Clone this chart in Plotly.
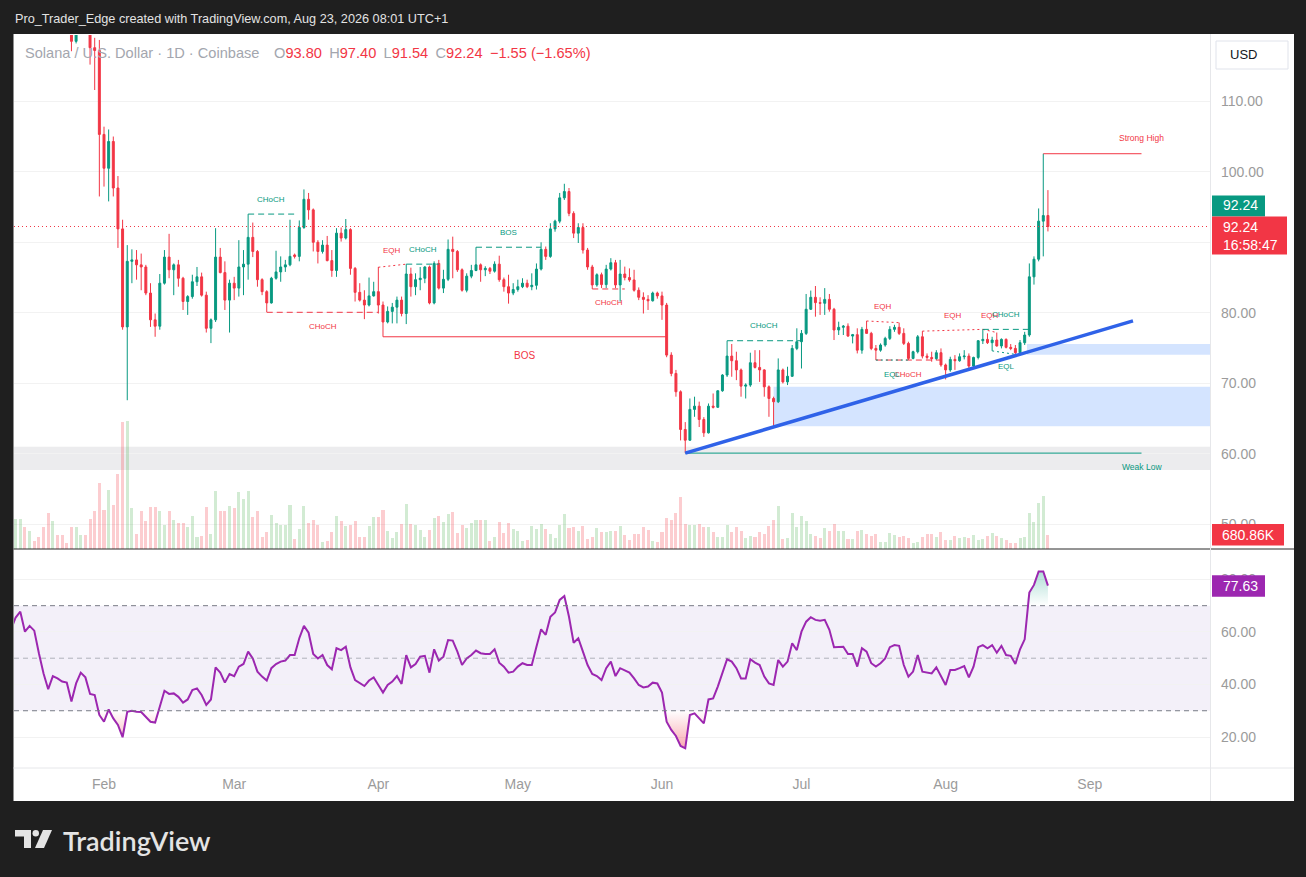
import pandas as pd
import plotly.graph_objects as go

W, H = 1306, 877
FONT = "Liberation Sans, Arial, sans-serif"
UP, DOWN = "#089981", "#f23645"
AXIS_TXT = "#9b9b9b"

# ---- daily SOL/USD candles, 12 Jan - 23 Aug 2026 ----
dates = pd.date_range("2026-01-12", "2026-08-23", freq="D")

opens = [
    128.0, 129.0, 132.0, 134.0, 130.0, 131.5, 130.5, 126.5, 123.0, 121.0, 124.0, 123.0, 122.0, 121.0, 118.5, 120.5, 122.0, 120.5, 117.6, 117.2,
    105.3, 100.5, 104.3, 97.7, 91.9, 78.0, 87.3, 87.5, 86.8, 86.5, 82.8, 79.0, 78.1, 84.2, 87.9, 86.1, 86.8, 84.9, 81.6, 82.3, 84.4, 85.1, 82.5, 77.8, 79.0, 87.9, 85.7, 81.8,
    84.2, 83.5, 86.5, 86.9, 90.7, 88.7, 84.7, 83.0, 81.4, 84.9, 85.8, 86.5, 86.8, 88.2, 88.0, 92.1, 96.1, 94.6, 90.0, 88.7, 89.6, 87.4, 86.0, 91.3, 90.6, 91.8, 86.3, 82.9, 81.8, 81.1, 82.4,
    83.0, 81.1, 78.7, 80.2, 80.8, 81.8, 79.9, 85.5, 83.7, 84.7, 84.9, 86.5, 81.4, 87.0, 83.5, 84.75, 89.0, 88.7, 86.1, 83.2, 85.2, 86.0, 86.8, 86.1, 86.3, 85.9, 86.9, 84.7, 83.7, 82.8,
    83.3, 83.7, 84.2, 83.7, 83.9, 86.2, 89.0, 88.0, 91.9, 93.0, 96.3, 97.2, 94.1, 91.3, 92.1, 88.9, 86.5, 83.95, 85.4, 84.0, 86.2, 87.1, 83.95, 85.5, 85.0, 84.66, 83.2, 82.2, 81.9, 81.7, 82.8,
    82.4, 81.1, 74.0, 71.4, 68.8, 63.45, 61.93, 66.3, 66.76, 64.87, 62.97, 66.76, 66.6, 68.94, 71.17, 73.86, 73.2, 71.9, 69.6, 69.75, 72.92, 72.25, 71.9, 69.5, 67.85, 67.38, 71.9, 70.2, 71.0, 74.95,
    75.9, 77.08, 80.5, 82.2, 81.44, 81.35, 81.9, 80.5, 77.56, 77.94, 78.1, 76.7, 76.9, 74.7, 77.65, 77.08, 74.95, 74.7, 75.43, 76.37, 77.65, 77.94, 77.08, 75.66, 73.53, 74.48, 76.6, 73.86, 73.67, 73.5, 74.34,
    72.6, 71.9, 73.39, 73.2, 73.77, 73.86, 72.44, 73.67, 76.04, 76.23, 75.76, 76.14, 75.3, 76.23, 75.1, 74.95, 74.34, 75.76, 76.85, 85.1, 87.6, 93.0, 93.80,
]
highs = [
    131.0, 133.0, 135.0, 135.0, 133.0, 132.0, 131.0, 127.0, 123.5, 125.0, 124.5, 123.5, 122.5, 121.5, 121.0, 123.0, 122.5, 121.0, 119.0, 118.7,
    106.4, 106.0, 105.0, 99.4, 93.2, 89.6, 89.0, 88.9, 88.4, 86.8, 84.2, 79.9, 85.5, 88.9, 91.2, 87.0, 87.5, 85.1, 82.5, 85.4, 86.5, 85.7, 83.0, 79.2, 92.0, 89.2, 87.3, 84.7,
    85.1, 90.3, 88.9, 94.0, 92.8, 88.9, 84.9, 83.2, 85.1, 88.8, 88.0, 87.5, 93.2, 88.4, 93.1, 97.5, 97.0, 94.8, 90.3, 90.3, 90.9, 88.9, 92.0, 92.1, 93.3, 92.0, 86.5, 84.2, 83.2, 85.0, 84.4,
    86.5, 81.6, 80.9, 81.4, 82.3, 82.3, 86.9, 86.4, 85.6, 86.5, 86.6, 86.7, 87.3, 87.5, 86.1, 90.4, 90.8, 88.9, 86.3, 85.6, 86.8, 89.3, 87.0, 86.6, 86.5, 87.3, 88.1, 85.0, 85.4, 84.2,
    84.7, 84.9, 84.7, 85.6, 87.0, 90.0, 89.4, 92.7, 93.2, 97.0, 98.3, 97.7, 94.4, 92.7, 92.7, 89.2, 86.8, 85.6, 85.7, 86.8, 87.75, 87.5, 87.5, 86.55, 86.3, 86.1, 83.6, 82.9, 82.5, 83.0, 83.0,
    83.0, 81.4, 74.4, 71.9, 69.0, 64.5, 67.85, 68.1, 67.4, 65.2, 67.14, 68.56, 69.0, 71.3, 76.04, 75.57, 74.48, 72.1, 70.0, 74.34, 74.7, 74.7, 72.0, 69.7, 68.1, 73.53, 72.1, 72.35, 75.43, 77.8,
    77.56, 82.67, 83.15, 83.8, 82.2, 83.5, 82.67, 80.7, 78.74, 78.27, 78.5, 77.0, 77.8, 78.0, 78.84, 77.3, 75.43, 75.66, 76.6, 78.1, 78.3, 78.6, 77.8, 75.9, 74.62, 76.85, 77.4, 74.24, 74.48, 74.7, 74.95,
    72.8, 73.77, 74.0, 74.24, 74.7, 74.24, 73.77, 76.14, 77.65, 77.08, 76.6, 77.2, 76.37, 76.37, 75.57, 75.43, 76.14, 77.3, 87.0, 88.0, 94.8, 102.56, 97.40,
]
lows = [
    126.0, 128.0, 130.0, 129.0, 129.0, 129.5, 126.0, 122.0, 120.0, 120.5, 122.0, 121.5, 120.0, 117.1, 118.2, 120.0, 119.5, 115.2, 111.6, 96.5,
    97.9, 95.8, 96.5, 89.2, 77.6, 67.6, 84.2, 84.7, 83.2, 82.5, 78.0, 76.6, 77.6, 84.0, 84.9, 82.5, 83.7, 80.4, 79.7, 82.0, 83.8, 82.3, 77.2, 75.7, 78.7, 85.6, 80.4, 77.2,
    81.8, 82.3, 82.5, 84.7, 87.9, 83.7, 82.5, 80.1, 81.3, 84.7, 84.4, 85.8, 86.6, 87.7, 87.3, 91.9, 93.2, 88.7, 87.0, 88.4, 87.3, 85.1, 85.1, 90.1, 90.4, 85.4, 81.6, 81.6, 79.1, 80.9, 82.3,
    79.9, 76.6, 78.5, 78.5, 78.5, 79.5, 78.4, 82.3, 82.5, 83.2, 84.2, 81.2, 81.2, 83.3, 82.8, 84.5, 84.9, 85.8, 83.0, 82.9, 84.9, 85.9, 84.4, 85.2, 85.5, 85.7, 84.4, 83.0, 81.3, 82.5,
    83.0, 83.5, 83.5, 83.2, 83.3, 86.0, 87.5, 87.8, 91.5, 92.7, 96.0, 93.7, 90.6, 89.9, 88.4, 86.1, 83.38, 83.7, 83.5, 83.5, 86.0, 83.5, 81.6, 84.6, 84.4, 83.0, 81.8, 79.9, 80.4, 81.6, 82.0,
    79.0, 73.7, 71.0, 68.1, 61.9, 60.1, 61.84, 65.25, 63.8, 62.4, 62.88, 66.43, 66.5, 68.8, 70.9, 70.93, 70.45, 68.1, 67.85, 69.5, 72.1, 70.2, 68.1, 65.25, 63.9, 67.2, 69.98, 69.75, 70.9, 74.7,
    72.1, 76.85, 80.4, 79.45, 79.7, 79.7, 80.16, 76.14, 76.85, 76.85, 76.6, 75.66, 74.24, 74.2, 77.08, 74.7, 73.3, 74.48, 75.19, 76.14, 77.3, 76.85, 75.43, 73.3, 73.4, 74.24, 73.53, 73.39, 73.06, 73.3, 72.35,
    70.55, 71.64, 71.9, 73.06, 73.39, 72.1, 72.1, 73.39, 75.57, 75.57, 74.6, 75.19, 74.95, 74.95, 74.7, 74.0, 74.0, 75.43, 76.6, 84.0, 87.3, 88.0, 91.54,
]
closes = [
    129.0, 132.0, 134.0, 130.0, 131.5, 130.5, 126.5, 123.0, 121.0, 124.0, 123.0, 122.0, 121.0, 118.5, 120.5, 122.0, 120.5, 117.6, 117.2, 105.3,
    100.5, 104.3, 97.7, 91.9, 78.0, 87.3, 87.5, 86.8, 86.5, 82.8, 79.0, 78.1, 84.2, 87.9, 86.1, 86.8, 84.9, 81.6, 82.3, 84.4, 85.1, 82.5, 77.8, 79.0, 87.9, 85.7, 81.8, 84.2,
    83.5, 86.5, 86.9, 90.7, 88.7, 84.7, 83.0, 81.4, 84.9, 85.8, 86.5, 86.8, 88.0, 88.0, 92.1, 96.1, 94.6, 90.0, 88.7, 89.6, 87.4, 86.0, 91.3, 90.6, 91.8, 86.3, 82.9, 81.8, 81.1, 82.4, 83.0,
    81.1, 78.7, 80.2, 80.8, 81.8, 79.9, 85.5, 83.7, 84.7, 84.9, 86.5, 81.4, 87.0, 83.5, 84.75, 89.0, 88.7, 86.1, 83.2, 85.2, 86.0, 86.8, 86.1, 86.3, 85.9, 86.9, 84.7, 83.7, 82.8, 83.3,
    83.7, 84.2, 83.7, 83.9, 86.2, 89.0, 88.0, 91.9, 93.0, 96.3, 97.2, 94.1, 91.3, 92.1, 88.9, 86.5, 83.95, 85.4, 84.0, 86.2, 87.1, 83.95, 85.5, 85.0, 84.66, 83.2, 82.2, 81.9, 81.7, 82.8, 82.4,
    81.1, 74.0, 71.4, 68.8, 63.45, 61.93, 66.3, 66.76, 64.87, 62.97, 66.76, 66.6, 68.94, 71.17, 73.86, 73.2, 71.9, 69.6, 69.75, 72.92, 72.25, 71.9, 69.5, 67.85, 67.38, 71.9, 70.2, 71.0, 74.95, 75.9,
    77.08, 80.5, 82.2, 81.44, 81.35, 81.9, 80.5, 77.56, 77.94, 78.1, 76.7, 76.9, 74.7, 77.65, 77.08, 74.95, 74.7, 75.43, 76.37, 77.65, 77.94, 77.08, 75.66, 73.53, 74.48, 76.6, 73.86, 73.67, 73.5, 74.34, 72.6,
    71.9, 73.39, 73.2, 73.77, 73.86, 72.44, 73.67, 76.04, 76.23, 75.76, 76.14, 75.3, 76.23, 75.1, 74.95, 74.34, 75.76, 76.85, 85.1, 87.6, 93.0, 93.79, 92.24,
]
# volume in thousands of SOL
volumes_k = [
    1175, 1410, 1410, 1034, 846, 376, 564, 1034, 1692, 1316, 658, 658, 282, 1034, 1034, 658, 658, 1410, 1786, 3102,
    1833, 2773, 2068, 3525, 5969, 6016, 1927, 705, 1786, 1316, 1974, 1974, 1786, 1128, 1786, 1363, 1222, 1222, 1034, 1551, 564, 611, 1974, 705, 2726, 1786, 1786, 2021,
    1927, 2679, 2350, 2726, 1504, 1786, 564, 799, 1598, 1222, 1128, 1128, 2068, 470, 940, 2021, 1222, 1363, 1128, 329, 376, 799, 1551, 1316, 1081, 1128, 1316, 564, 564, 1081, 1504,
    1504, 1833, 846, 517, 799, 1175, 2115, 1175, 1128, 893, 564, 893, 1457, 1551, 1269, 1645, 1739, 752, 1128, 987, 1222, 1363, 1363, 1363, 376, 564, 1269, 752, 1222, 940,
    846, 376, 423, 1081, 940, 1175, 940, 705, 517, 1128, 1645, 987, 1034, 846, 1081, 470, 564, 987, 799, 799, 846, 846, 1081, 658, 423, 705, 705, 1034, 893, 376, 329,
    799, 1457, 1363, 1692, 2444, 1175, 1128, 1128, 1175, 1034, 1034, 799, 564, 564, 1128, 799, 1034, 846, 517, 611, 564, 799, 705, 1081, 1363, 2021, 470, 517, 1692, 1034,
    1551, 1316, 705, 611, 517, 987, 846, 1175, 846, 846, 470, 470, 846, 893, 705, 611, 705, 329, 329, 752, 658, 564, 611, 517, 282, 329, 564, 705, 705, 564, 799,
    423, 423, 611, 517, 564, 517, 658, 423, 470, 611, 752, 611, 517, 423, 282, 282, 517, 564, 1692, 1269, 2162, 2491, 680.86,
]
# RSI(14)
rsi = [
    61.0, 65.5, 67.7, 60.1, 62.3, 60.5, 51.9, 44.2, 38.2, 43.2, 42.3, 41.1, 40.7, 33.5, 40.4, 44.5, 42.7, 36.4, 36.0, 28.4,
    25.8, 30.5, 27.1, 24.6, 19.9, 29.6, 30.0, 29.6, 29.5, 27.7, 25.8, 25.5, 31.6, 37.6, 36.4, 36.6, 35.3, 33.1, 34.3, 37.9, 38.5, 36.0, 32.2, 34.3, 46.5, 44.5, 40.7, 44.0,
    43.2, 46.8, 47.8, 52.5, 49.9, 44.9, 43.0, 41.5, 46.2, 47.8, 48.7, 49.1, 51.2, 51.2, 57.6, 62.3, 59.7, 51.6, 49.9, 51.2, 47.4, 45.8, 53.8, 53.1, 54.4, 46.5, 41.7, 40.4, 39.4, 41.5, 42.7,
    39.8, 36.9, 39.8, 41.1, 43.2, 40.2, 51.2, 46.5, 47.8, 50.6, 50.9, 44.5, 53.4, 49.1, 50.6, 56.9, 56.7, 52.5, 47.4, 49.9, 51.2, 52.9, 51.9, 51.6, 51.6, 53.4, 48.3, 46.8, 44.5, 44.9,
    46.8, 48.1, 47.4, 47.4, 54.4, 61.0, 58.9, 65.8, 67.4, 72.2, 73.7, 65.8, 55.9, 57.6, 52.5, 47.4, 44.0, 43.2, 41.7, 46.2, 48.7, 43.2, 46.2, 45.5, 44.5, 42.3, 39.8, 38.9, 39.2, 40.7, 40.4,
    36.9, 25.8, 22.7, 20.4, 16.6, 15.7, 28.4, 29.0, 27.1, 25.2, 34.3, 34.7, 39.2, 44.2, 49.6, 48.7, 46.2, 42.3, 42.3, 49.6, 48.3, 47.4, 43.0, 40.4, 39.8, 49.3, 46.8, 48.7, 55.7, 53.1,
    60.1, 63.9, 65.6, 64.6, 64.3, 64.6, 60.8, 54.2, 54.4, 54.4, 51.6, 51.6, 46.8, 53.8, 52.5, 48.1, 46.8, 48.1, 49.9, 54.2, 55.0, 54.7, 47.4, 43.0, 44.9, 51.2, 44.9, 44.5, 44.2, 46.5, 43.0,
    39.8, 45.5, 45.5, 46.2, 47.0, 42.7, 46.8, 54.2, 55.0, 53.8, 55.0, 52.1, 54.7, 51.2, 50.9, 47.8, 53.4, 57.2, 75.0, 77.9, 83.0, 83.0, 77.63,
]
n = len(dates)
assert all(len(s) == n for s in (opens, highs, lows, closes, volumes_k, rsi))

month_ticks = ["2026-02-01", "2026-03-01", "2026-04-01", "2026-05-01",
               "2026-06-01", "2026-07-01", "2026-08-01", "2026-09-01"]
month_labels = ["Feb", "Mar", "Apr", "May", "Jun", "Jul", "Aug", "Sep"]

price_ticks = [50, 60, 70, 80, 90, 100, 110]
# 90.00 sits under the last-price labels, so only its grid line shows
price_tick_text = ["50.00", "60.00", "70.00", "80.00", "", "100.00", "110.00"]

view = ["2026-01-12 15:30", "2026-09-26 20:30"]
price_range = [46.5, 119.4]
rsi_range = [8.2, 91.2]
vol_range = [0, 24200]

# ---- smart money concepts structure (start, end, level at start, level at end, label) ----
smc_start = ["2026-03-04", "2026-03-08", "2026-04-01", "2026-04-07", "2026-04-22", "2026-04-02", "2026-05-17",
             "2026-06-15", "2026-07-15", "2026-07-17", "2026-07-17", "2026-07-27", "2026-08-09", "2026-08-09", "2026-08-11"]
smc_end = ["2026-03-14", "2026-04-01", "2026-04-07", "2026-04-14", "2026-05-06", "2026-06-02", "2026-05-24",
           "2026-07-01", "2026-07-22", "2026-07-31", "2026-07-24", "2026-08-09", "2026-08-12", "2026-08-19", "2026-08-17"]
smc_from = [94.0, 80.07, 86.46, 86.9, 89.3, 76.6, 83.38, 76.04, 78.84, 73.3, 73.3, 77.4, 77.65, 77.65, 74.6]
smc_to = [94.0, 80.07, 86.9, 86.9, 89.3, 76.6, 83.38, 76.04, 78.6, 73.3, 73.3, 77.65, 77.2, 77.65, 74.0]
smc_label = ["CHoCH", "CHoCH", "EQH", "CHoCH", "BOS", "BOS", "CHoCH",
             "CHoCH", "EQH", "CHoCH", "EQL", "EQH", "EQH", "CHoCH", "EQL"]
smc_bull = [True, False, False, True, True, False, False, True, False, False, True, False, False, True, True]
smc_swing = [False, False, False, False, False, True, False, False, False, False, False, False, False, False, False]

strong_high, strong_high_from = 102.56, "2026-08-22"
weak_low, weak_low_from = 60.1, "2026-06-06"
levels_until = "2026-09-12 03:00"

grey_zone = [57.7, 61.0]
demand_from = ["2026-06-25", "2026-08-18 12:00"]
demand_low = [63.9, 74.06]
demand_high = [69.5, 75.57]

trend_dates = ["2026-06-06", "2026-09-10 07:00"]
trend_prices = [60.1, 78.85]


def px(x):
    return x / W


def py(y):
    return 1 - y / H


X_DOM = [px(14), px(1210)]
PRICE_DOM = [py(549), py(35)]
RSI_DOM = [py(768), py(550)]

fig = go.Figure()

vol_colors = ["rgba(76,175,80,0.25)" if c >= o else "rgba(242,54,69,0.25)" for o, c in zip(opens, closes)]
fig.add_trace(go.Bar(x=dates, y=volumes_k, marker=dict(color=vol_colors, line=dict(width=0)),
                     width=0.65 * 86400000, xaxis="x", yaxis="y", hoverinfo="skip"))

fig.add_trace(go.Candlestick(
    x=dates, open=opens, high=highs, low=lows, close=closes, xaxis="x", yaxis="y2",
    increasing=dict(line=dict(color=UP, width=1), fillcolor=UP),
    decreasing=dict(line=dict(color=DOWN, width=1), fillcolor=DOWN),
    whiskerwidth=0, hoverinfo="skip"))

# RSI overbought / oversold fills
fig.add_trace(go.Scatter(x=dates, y=[70] * n, mode="lines", line=dict(width=0), xaxis="x2", yaxis="y3", hoverinfo="skip"))
fig.add_trace(go.Scatter(x=dates, y=[max(r, 70) for r in rsi], mode="lines", line=dict(width=0), fill="tonexty",
                         fillgradient=dict(type="vertical", start=70, stop=84,
                                           colorscale=[[0, "rgba(8,153,129,0)"], [1, "rgba(8,153,129,0.35)"]]),
                         xaxis="x2", yaxis="y3", hoverinfo="skip"))
fig.add_trace(go.Scatter(x=dates, y=[30] * n, mode="lines", line=dict(width=0), xaxis="x2", yaxis="y3", hoverinfo="skip"))
fig.add_trace(go.Scatter(x=dates, y=[min(r, 30) for r in rsi], mode="lines", line=dict(width=0), fill="tonexty",
                         fillgradient=dict(type="vertical", start=15, stop=30,
                                           colorscale=[[0, "rgba(242,54,69,0.45)"], [1, "rgba(242,54,69,0)"]]),
                         xaxis="x2", yaxis="y3", hoverinfo="skip"))
fig.add_trace(go.Scatter(x=dates, y=rsi, mode="lines", line=dict(color="#9c27b0", width=2),
                         xaxis="x2", yaxis="y3", hoverinfo="skip"))

shapes = []
# white chart panel on the dark page
shapes.append(dict(type="rect", xref="paper", yref="paper", x0=px(13.5), x1=px(1294), y0=py(801), y1=py(34),
                   fillcolor="white", line=dict(width=0), layer="below"))
shapes.append(dict(type="rect", xref="x domain", yref="y2", x0=0, x1=1, y0=grey_zone[0], y1=grey_zone[1],
                   fillcolor="rgba(120,123,134,0.14)", line=dict(width=0), layer="below"))
for d0, lo, hi in zip(demand_from, demand_low, demand_high):
    shapes.append(dict(type="rect", xref="x", yref="y2", x0=d0, x1=view[1], y0=lo, y1=hi,
                       fillcolor="rgba(41,121,255,0.2)", line=dict(width=0), layer="below"))
shapes.append(dict(type="rect", xref="x2 domain", yref="y3", x0=0, x1=1, y0=30, y1=70,
                   fillcolor="rgba(126,87,194,0.09)", line=dict(width=0), layer="below"))
for lvl, col in ((70, "#787b86"), (50, "rgba(120,123,134,0.55)"), (30, "#787b86")):
    shapes.append(dict(type="line", xref="x2 domain", yref="y3", x0=0, x1=1, y0=lvl, y1=lvl,
                       line=dict(color=col, width=1, dash="5px,4px")))
# last price line
shapes.append(dict(type="line", xref="x domain", yref="y2", x0=0, x1=1, y0=closes[-1], y1=closes[-1],
                   line=dict(color=DOWN, width=1, dash="1px,3px")))

annotations = []
for s, e, y0, y1, lab, bull, swing in zip(smc_start, smc_end, smc_from, smc_to, smc_label, smc_bull, smc_swing):
    col = UP if bull else DOWN
    if lab in ("EQH", "EQL"):
        dash = "2px,3px"
    elif swing:
        dash = "solid"
    else:
        dash = "6px,4px"
    shapes.append(dict(type="line", xref="x", yref="y2", x0=s, x1=e, y0=y0, y1=y1,
                       line=dict(color=col, width=1, dash=dash)))
    mid = pd.Timestamp(s) + (pd.Timestamp(e) - pd.Timestamp(s)) / 2
    above = lab == "EQH" or (bull and lab != "EQL")
    annotations.append(dict(x=mid, y=(y0 + y1) / 2, xref="x", yref="y2", text=lab, showarrow=False,
                            font=dict(family=FONT, size=10 if swing else 8, color=col),
                            yshift=(15 if above else -(19 if swing else 14))))

shapes.append(dict(type="line", xref="x", yref="y2", x0=strong_high_from, x1=levels_until,
                   y0=strong_high, y1=strong_high, line=dict(color=DOWN, width=1)))
shapes.append(dict(type="line", xref="x", yref="y2", x0=weak_low_from, x1=levels_until,
                   y0=weak_low, y1=weak_low, line=dict(color=UP, width=1)))
annotations.append(dict(x=levels_until, y=strong_high, xref="x", yref="y2", text="Strong High", showarrow=False,
                        font=dict(family=FONT, size=8.5, color=DOWN), yshift=16))
annotations.append(dict(x=levels_until, y=weak_low, xref="x", yref="y2", text="Weak Low", showarrow=False,
                        font=dict(family=FONT, size=8.5, color=UP), yshift=-14))

shapes.append(dict(type="line", xref="x", yref="y2", x0=trend_dates[0], x1=trend_dates[1],
                   y0=trend_prices[0], y1=trend_prices[1], line=dict(color="#2f62e8", width=3.5)))

# frame lines
shapes.append(dict(type="line", xref="paper", yref="paper", x0=px(13.5), x1=px(1294), y0=py(549), y1=py(549),
                   line=dict(color="#2b2b2b", width=1)))
shapes.append(dict(type="line", xref="paper", yref="paper", x0=px(13.5), x1=px(1294), y0=py(768), y1=py(768),
                   line=dict(color="#e6e7ea", width=1)))
shapes.append(dict(type="line", xref="paper", yref="paper", x0=px(1210.5), x1=px(1210.5), y0=py(801), y1=py(34),
                   line=dict(color="#e6e7ea", width=1)))

# price scale labels (boxes tied to values)
shapes.append(dict(type="rect", xref="paper", yref="y2", ysizemode="pixel", yanchor=closes[-1],
                   x0=px(1212), x1=px(1265), y0=10, y1=31, fillcolor=UP, line=dict(width=0)))
shapes.append(dict(type="rect", xref="paper", yref="y2", ysizemode="pixel", yanchor=closes[-1],
                   x0=px(1212), x1=px(1287), y0=-28, y1=10, fillcolor=DOWN, line=dict(width=0)))
shapes.append(dict(type="rect", xref="paper", yref="y", ysizemode="pixel", yanchor=volumes_k[-1],
                   x0=px(1212), x1=px(1284), y0=-11, y1=10.5, fillcolor="#f23645", line=dict(width=0)))
shapes.append(dict(type="rect", xref="paper", yref="y3", ysizemode="pixel", yanchor=rsi[-1],
                   x0=px(1212), x1=px(1265), y0=-11, y1=10.5, fillcolor="#9c27b0", line=dict(width=0)))
shapes.append(dict(type="rect", xref="paper", yref="paper", x0=px(1216), x1=px(1288), y0=py(69), y1=py(41),
                   fillcolor="white", line=dict(color="#e0e3eb", width=1)))

lbl_font = dict(family=FONT, size=14, color="white")
annotations += [
    dict(x=px(1221), y=closes[-1], xref="paper", yref="y2", text=f"{closes[-1]:.2f}", showarrow=False,
         xanchor="left", yanchor="middle", font=lbl_font, yshift=21),
    dict(x=px(1221), y=closes[-1], xref="paper", yref="y2", text=f"{closes[-1]:.2f}<br>16:58:47", showarrow=False,
         xanchor="left", yanchor="top", align="left", font=lbl_font, yshift=9),
    dict(x=px(1220), y=volumes_k[-1], xref="paper", yref="y", text=f"{volumes_k[-1]:.2f}K", showarrow=False,
         xanchor="left", yanchor="middle", font=lbl_font),
    dict(x=px(1221), y=rsi[-1], xref="paper", yref="y3", text=f"{rsi[-1]:.2f}", showarrow=False,
         xanchor="left", yanchor="middle", font=lbl_font),
    dict(x=px(1228), y=py(55), xref="paper", yref="paper", text="USD", showarrow=False,
         xanchor="left", yanchor="middle", font=dict(family=FONT, size=13, color="#131722")),
]

# header and legend
change = closes[-1] - closes[-2]
pct = change / closes[-2] * 100
g, r_ = "#a3a6ae", DOWN
legend_txt = (f"<span style='color:{g}'>Solana / U.S. Dollar · 1D · Coinbase</span>\u2003"
              f"<span style='color:{g}'>O</span><span style='color:{r_}'>{opens[-1]:.2f}</span>\u2002"
              f"<span style='color:{g}'>H</span><span style='color:{r_}'>{highs[-1]:.2f}</span>\u2002"
              f"<span style='color:{g}'>L</span><span style='color:{r_}'>{lows[-1]:.2f}</span>\u2002"
              f"<span style='color:{g}'>C</span><span style='color:{r_}'>{closes[-1]:.2f}</span>\u2002"
              f"<span style='color:{r_}'>\u2212{abs(change):.2f} (\u2212{abs(pct):.2f}%)</span>")
annotations += [
    dict(x=px(13), y=py(19), xref="paper", yref="paper", showarrow=False, xanchor="left", yanchor="middle",
         text="Pro_Trader_Edge created with TradingView.com, Aug 23, 2026 08:01 UTC+1",
         font=dict(family=FONT, size=12.7, color="#e3e3e3")),
    dict(x=px(23), y=py(53), xref="paper", yref="paper", showarrow=False, xanchor="left", yanchor="middle",
         text=legend_txt, font=dict(family=FONT, size=14.6)),
    dict(x=px(61), y=py(840), xref="paper", yref="paper", showarrow=False, xanchor="left", yanchor="middle",
         text="TradingView", font=dict(family="Lato, Liberation Sans, Arial", size=27, color="#e4e4e4", weight=600)),
]

# TradingView logo mark
logo = "#e4e4e4"
shapes += [
    dict(type="rect", xref="paper", yref="paper", x0=px(15), x1=px(31), y0=py(836.5), y1=py(830), fillcolor=logo, line=dict(width=0)),
    dict(type="rect", xref="paper", yref="paper", x0=px(24), x1=px(31), y0=py(848), y1=py(830), fillcolor=logo, line=dict(width=0)),
    dict(type="circle", xref="paper", yref="paper", x0=px(32.5), x1=px(39), y0=py(836.5), y1=py(830), fillcolor=logo, line=dict(width=0)),
    dict(type="path", xref="paper", yref="paper", fillcolor=logo, line=dict(width=0),
         path=f"M {px(43)},{py(830)} L {px(52)},{py(830)} L {px(44)},{py(848)} L {px(35)},{py(848)} Z"),
]

axis_font = dict(family=FONT, size=14, color=AXIS_TXT)
fig.update_layout(
    width=W, height=H, margin=dict(l=0, r=0, t=0, b=0),
    paper_bgcolor="#1f1f1f", plot_bgcolor="rgba(0,0,0,0)",
    showlegend=False, boxgap=0.4, bargap=0,
    shapes=shapes, annotations=annotations,
    xaxis=dict(domain=X_DOM, anchor="y", type="date", range=view, showticklabels=False, showgrid=False,
               zeroline=False, showline=False, ticks="", rangeslider=dict(visible=False), fixedrange=True),
    yaxis=dict(domain=PRICE_DOM, anchor="x", range=vol_range, visible=False, fixedrange=True),
    yaxis2=dict(overlaying="y", anchor="x", side="right", range=price_range,
                tickvals=price_ticks, ticktext=price_tick_text, showgrid=True, gridcolor="#f2f2f2",
                zeroline=False, showline=False, ticks="", tickfont=axis_font, ticklabelstandoff=10, fixedrange=True),
    xaxis2=dict(domain=X_DOM, anchor="y3", matches="x", type="date", tickvals=month_ticks, ticktext=month_labels,
                showgrid=False, zeroline=False, showline=False, ticks="", tickfont=axis_font,
                ticklabelstandoff=6, rangeslider=dict(visible=False), fixedrange=True),
    yaxis3=dict(domain=RSI_DOM, anchor="x2", side="right", range=rsi_range, tickvals=[20, 40, 60, 80],
                tickformat=".2f", showgrid=True, gridcolor="#f2f2f2", zeroline=False, showline=False, ticks="",
                tickfont=axis_font, ticklabelstandoff=10, fixedrange=True),
)

# the page itself: no default body margin, dark behind the figure
page_js = ("document.body.style.margin='0';document.body.style.background='#1f1f1f';"
           "document.documentElement.style.background='#1f1f1f';")
fig.write_html("out.html", config={"displayModeBar": False}, post_script=page_js)
